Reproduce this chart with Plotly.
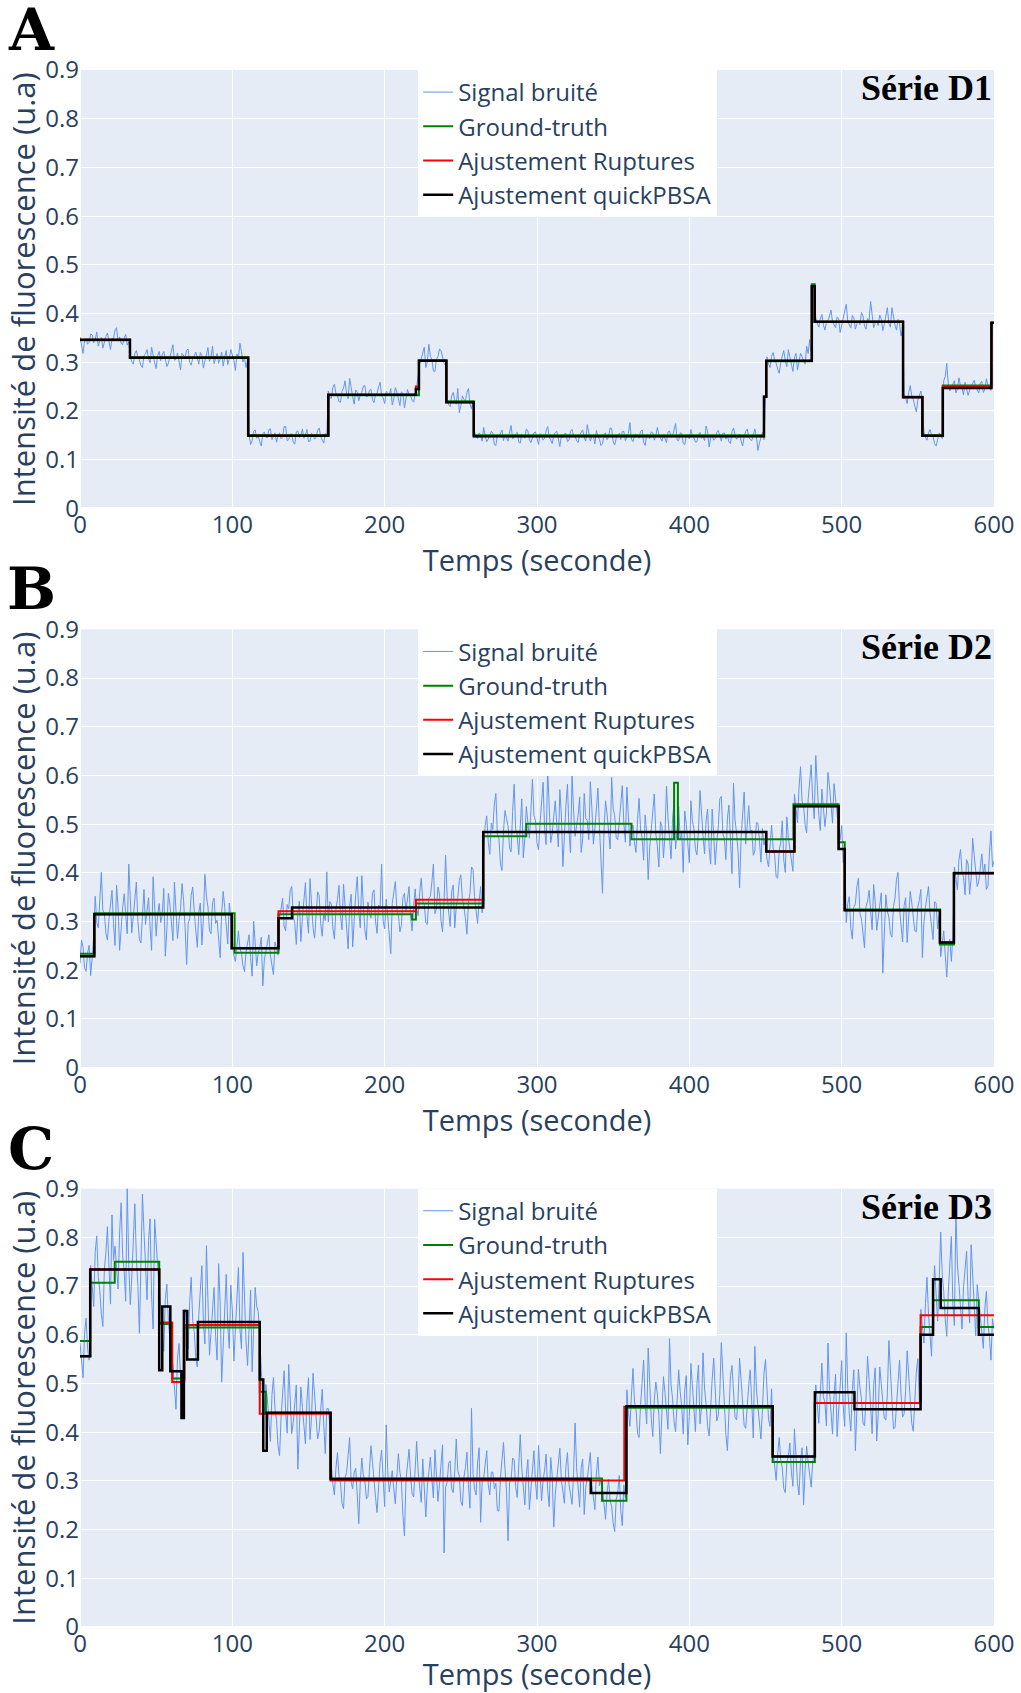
import plotly.graph_objects as go
from plotly.subplots import make_subplots

# sample times of the noisy signals (one sample per second)
temps = list(range(0, 601))

# noisy signals, in thousandths of a.u.
signal_d1 = [
    352, 331, 318, 344, 349, 337, 341, 358, 356, 340, 347, 362, 333, 345, 351, 329, 344, 353, 360, 338,
    326, 349, 348, 366, 371, 344, 352, 339, 336, 350, 357, 335, 342,
    312, 301, 296, 318, 324, 309, 305, 293, 289, 314, 317, 326, 308, 299, 331, 311, 299, 287, 314, 322,
    303, 316, 322, 307, 291, 298, 311, 328, 336, 304, 306, 319, 297, 284, 318, 312, 309, 325, 327, 300,
    294, 308, 313, 321, 305, 296, 320, 314, 288, 303, 316, 330, 302, 311, 333, 297, 308, 318, 298, 306,
    321, 292, 311, 324, 295, 307, 326, 315, 304, 283, 317, 309, 339, 322, 300, 310, 289, 303,
    152, 131, 139, 158, 161, 144, 148, 137, 128, 153, 157, 146, 145, 162, 163, 141, 150, 155, 136, 149,
    155, 143, 147, 168, 168, 139, 141, 152, 153, 135, 132, 157, 159, 146, 149, 163, 144, 151, 162, 137,
    138, 154, 151, 142, 146, 160, 165, 148, 140, 134, 154, 147,
    241, 228, 226, 248, 255, 236, 232, 219, 218, 240, 247, 262, 236, 225, 267, 244, 229, 214, 243, 238,
    221, 233, 238, 251, 252, 229, 230, 242, 245, 223, 217, 234, 236, 249, 259, 231, 227, 215, 240, 237,
    233, 246, 212, 225, 248, 239, 225, 211, 239, 236, 206, 228, 244, 233, 231, 222, 218, 235,
    248, 274,
    296, 307, 318, 331, 289, 301, 337, 312, 305, 282, 281, 306, 312, 327, 324, 310, 298, 293,
    225, 213, 209, 231, 238, 222, 214, 246, 196, 211, 231, 224, 220, 238, 246, 214, 205, 221,
    158, 147, 143, 155, 151, 138, 166, 149, 137, 142, 149, 158, 155, 131, 129, 150, 147, 156, 161, 139,
    152, 145, 138, 157, 170, 143, 145, 153, 156, 136, 134, 152, 150, 144, 163, 159, 141, 135, 148, 155,
    157, 146, 131, 153, 152, 140, 144, 159, 168, 147, 139, 133, 150, 156, 158, 141, 127, 149, 146, 153,
    154, 137, 140, 158, 162, 148, 149, 139, 135, 151, 156, 161, 145, 138, 172, 153, 138, 147, 151, 132,
    160, 148, 142, 129, 133, 152, 155, 141, 147, 165, 164, 137, 130, 144, 150, 154, 141, 158, 158, 139,
    146, 154, 176, 142, 137, 150, 153, 147, 144, 158, 161, 136, 129, 152, 149, 143, 157, 155, 140, 148,
    166, 151, 143, 138, 152, 144, 135, 157, 159, 146, 148, 162, 174, 140, 139, 155, 154, 133, 131, 150,
    150, 143, 162, 148, 145, 136, 137, 151, 156, 144, 147, 139, 169, 157, 126, 145, 151, 140, 143, 156,
    160, 149, 138, 154, 155, 142, 149, 137, 133, 158, 165, 151, 142, 146, 152, 138, 128, 147, 158, 163,
    146, 141, 139, 151, 163, 148, 119, 134, 148, 156, 141,
    232,
    311, 296, 289, 312, 320, 305, 298, 286, 277, 300, 315, 324, 303, 291, 326, 310, 292, 281, 309, 318,
    284, 299, 318, 312, 301, 296, 333, 318, 347, 322,
    455, 462,
    391, 380, 372, 389, 398, 377, 366, 381, 385, 395, 407, 383, 375, 371, 393, 389, 361, 376, 389, 402,
    419, 384, 378, 370, 396, 391, 368, 379, 384, 377, 402, 395, 374, 368, 390, 384, 425, 392, 371, 380,
    386, 375, 397, 389, 365, 378, 393, 412, 380, 372, 412, 391, 376, 366, 388, 379, 354, 370,
    236, 226, 215, 238, 252, 231, 224, 210, 198, 222, 232, 241, 219,
    158, 146, 140, 155, 162, 151, 147, 133, 128, 141, 155, 150, 143,
    262, 271, 298, 255, 241, 248, 255, 262, 237, 246, 268, 252, 246, 233, 259, 247, 232, 243, 251, 258,
    263, 249, 244, 237, 257, 261, 238, 245, 266, 253, 249, 242,
    379, 384,
]
signal_d2 = [
    214, 262, 247, 205, 198, 236, 251, 189, 226, 272,
    352, 298, 287, 341, 401, 322, 318, 276, 262, 305, 339, 364, 296, 251, 375, 330, 241, 288, 328, 357,
    309, 275, 418, 335, 277, 312, 345, 381, 301, 263, 256, 318, 366, 294, 322, 349, 289, 241, 392, 327,
    270, 315, 337, 298, 314, 368, 229, 283, 358, 336, 298, 261, 381, 314, 265, 302, 327, 378, 343, 287,
    212, 296, 306, 354, 371, 319, 284, 247, 319, 338, 252, 306, 397, 352, 330, 282, 275, 339, 348, 296,
    303, 267, 226, 318, 362, 329, 291, 254, 338, 312,
    262, 231, 218, 257, 281, 244, 235, 209, 197, 238, 254, 273, 226, 188, 301, 247, 209, 236, 247, 268,
    168, 221, 239, 258, 273, 230, 214, 191, 258, 242, 231,
    305, 329, 348, 290, 281, 335, 326, 364, 372, 311, 296, 253, 317, 342, 259, 308, 341, 380, 310, 276,
    388, 322, 287, 266, 329, 361, 353, 297, 270, 318, 302, 402, 299, 341, 336, 287, 264, 325, 345, 374,
    312, 283, 377, 329, 290, 244, 331, 356, 248, 309, 356, 392, 321, 287, 394, 333, 283, 262, 340, 318,
    307, 358, 365, 301, 276, 334, 329, 418, 301, 285, 346, 312, 269, 234, 337, 361, 382, 326, 315, 279,
    292, 350, 358, 321, 344, 372, 309, 281, 331,
    367, 328, 312, 359, 389, 342, 335, 297, 294, 348, 352, 381, 418, 316, 326, 371, 356, 301, 279, 345,
    436, 352, 318, 290, 362, 375, 287, 331, 349, 384, 396, 347, 330, 308, 274, 339, 358, 412, 407, 351,
    323, 296, 341, 372, 318,
    452, 497, 517, 463, 438, 502, 489, 541, 563, 478, 471, 418, 405, 486, 528, 512, 496, 451, 443, 526,
    582, 489, 478, 437, 509, 552, 431, 470,
    536, 494, 471, 528, 592, 517, 508, 462, 447, 503, 555, 586, 489, 458, 613, 527, 462, 481, 524, 548,
    498, 453, 571, 519, 413, 487, 539, 582, 486, 441, 601, 529, 475, 497, 518, 556, 442, 471, 563, 512,
    507, 468, 587, 535, 459, 492, 531, 574, 494, 437, 358, 488, 548, 521, 483, 449, 596, 533, 517, 472,
    468, 504, 541, 579, 502, 463, 576, 519, 455, 486,
    498, 461, 442, 509, 553, 488, 471, 426, 519, 482, 386, 452, 487, 534, 562, 479, 456, 412, 505, 496,
    431, 477, 578, 513, 468, 429, 512, 547, 449, 488, 536, 469, 482, 401, 527, 499, 463, 421, 548, 507,
    491, 448, 437, 486, 569, 512, 476, 439, 508, 531, 452, 418, 531, 476, 417, 463, 494, 552, 557, 481,
    470, 427, 513, 539, 446, 398, 584, 509, 482, 444, 369, 472, 521, 566, 459, 497, 538, 484, 488, 436,
    445, 503, 502, 468, 422, 491, 457,
    471, 428, 412, 465, 498, 451, 437, 392, 389, 446, 462, 507, 426, 401, 515, 472, 448, 419, 403,
    561, 528, 503, 574, 618, 547, 537, 498, 482, 551, 596, 622, 549, 511, 641, 563, 518, 487, 572, 534,
    495, 523, 606, 579, 534, 502, 583, 547, 512, 488,
    468, 497, 421, 446,
    298, 337, 351, 286, 264, 329, 337, 372, 389, 317, 305, 268, 246, 331, 342, 364, 318, 283, 376, 341,
    282, 306, 327, 359, 194, 298, 355, 321, 309, 274, 268, 331, 348, 387, 401, 326, 291, 258, 333, 349,
    257, 318, 362, 339, 314, 281, 279, 330, 345, 366, 226, 297, 329, 351, 372, 318, 296, 263, 341, 337,
    285, 312,
    228, 262, 281, 231, 186, 249, 264, 218, 273,
    412, 386, 365, 427, 448, 402, 391, 355, 427, 418, 356, 389, 471, 436, 403, 372, 382, 417, 439, 397,
    418, 366, 372, 441, 486, 412, 425,
]
signal_d3 = [
    583, 541, 512, 604, 634, 571, 548,
    742, 689, 658, 771, 803, 718, 691, 642, 617, 735, 768, 822, 724, 663, 846, 753,
    782, 728, 694, 811, 871, 762, 731, 669, 905, 744, 662, 718, 812, 869, 758, 701, 603, 776, 889, 812,
    725, 672, 794, 838, 678, 612, 837, 775, 741, 699,
    648, 601, 566, 672, 704, 629, 587, 553,
    538, 489, 447, 552, 582, 514, 481, 432,
    652, 603, 571, 668, 718, 629, 606, 552, 534, 641, 689, 742, 627, 581, 783, 659, 558, 603, 641, 697,
    597, 548, 746, 668, 503, 587, 665, 724, 618, 572, 702, 651, 546, 612, 681, 738, 612, 571, 769, 648,
    585, 537, 639, 692, 524, 601, 697, 659, 648, 593,
    512, 463, 437, 498,
    468, 421, 381, 476, 512, 447, 426, 372, 352, 431, 479, 526, 441, 398, 539, 462, 397, 421, 458, 497,
    324, 408, 493, 451, 420, 376, 466, 512, 385, 432, 521, 468, 437, 386, 402, 459, 488, 417, 356, 448,
    449, 413,
    332, 294, 271, 326, 358, 311, 296, 254, 243, 307, 317, 352, 389, 297, 284, 318, 326, 271, 212, 298,
    347, 312, 301, 263, 268, 321, 372, 338, 309, 266, 235, 294, 338, 363, 291, 247, 415, 321, 277, 306,
    321, 283, 253, 309, 356, 318, 298, 229, 187, 302, 334, 365, 312, 274, 267, 325, 381, 318, 289, 256,
    345, 297, 226, 288, 318, 349, 303, 265, 364, 312, 258, 294, 329, 374, 152, 287, 297, 336, 341, 283,
    276, 318, 386, 321, 310, 258, 249, 307, 327, 359, 292, 244, 449, 316, 283, 271, 337, 368, 215, 298,
    306, 341, 362, 292, 271, 318, 318, 284, 295, 239, 238, 306, 352, 379, 324, 281, 177, 296, 301, 347,
    343, 289, 266, 319, 395, 326, 287, 251, 313, 344, 241, 286, 336, 362, 298, 262, 373, 319, 259, 301,
    322, 355, 282, 247, 348, 311, 205, 273, 309, 337, 367, 302, 276, 254, 331, 358, 293, 267, 252, 314,
    419, 327, 285, 246, 327, 345, 231, 287, 304, 338, 358, 292, 268, 241, 316, 349, 290, 303,
    284, 247, 221, 276, 303, 259, 248, 213, 196, 262, 276, 311, 239, 208, 292, 265,
    487, 441, 412, 476, 531, 462, 446, 398, 389, 457, 502, 548, 461, 417, 573, 489, 428, 391, 466, 503,
    479, 435, 356, 441, 514, 482, 443, 406, 592, 497, 469, 421, 401, 462, 528, 483, 452, 396, 487, 516,
    374, 432, 541, 497, 436, 401, 498, 538, 417, 452, 563, 489, 458, 412, 392, 465, 509, 552, 471, 423,
    435, 478, 584, 509, 447, 396, 362, 438, 516, 537, 482, 431, 425, 471, 552, 498, 461, 414, 408, 463,
    497, 528, 439, 388, 576, 492, 453, 409, 386, 447, 521, 549, 468, 426, 412, 489,
    362, 328, 301, 356, 389, 342, 327, 284, 276, 338, 351, 378, 318, 289, 407, 352, 294, 271, 342, 368,
    251, 323, 371, 339, 316, 287, 338, 356,
    497, 452, 418, 481, 542, 473, 461, 413, 583, 488, 432, 396, 476, 519, 391, 446, 518, 547, 454, 412,
    604, 489, 439, 402, 487, 528, 362, 431, 529, 492, 468, 419, 413, 472, 556, 508, 447, 397, 496, 532,
    382, 438, 534, 496, 471, 428, 425, 479, 588, 516, 452, 407, 409, 463, 511, 548, 476, 431, 438, 486,
    567, 512, 461, 418, 402, 458, 523, 551, 463,
    652, 611, 583, 664, 718, 642, 601, 556, 674,
    742, 683, 628, 709, 811, 724, 689, 631, 597, 688, 758, 802, 663, 619, 856, 741, 704, 652, 612, 698,
    731, 772, 678, 624, 785, 713, 641, 598, 703, 668,
    648, 603, 572, 655, 689, 621, 597, 548, 633, 612,
]

# step fits: change points (s) and levels (a.u.)
gt_d1_t = [0, 32.8, 110.4, 163, 222.5, 240.5, 258.5, 449, 450.5, 480.4, 482.3, 540.3, 553, 566.4, 598.3, 600]
gt_d1_y = [0.345, 0.31, 0.15, 0.232, 0.304, 0.22, 0.15, 0.229, 0.302, 0.46, 0.383, 0.229, 0.15, 0.252, 0.38, 0.38]
rup_d1_t = [0, 32.8, 110.4, 163, 220.5, 222.5, 240.5, 258.5, 449, 450.5, 480.4, 482.3, 540.3, 553, 566.4, 598.3, 600]
rup_d1_y = [0.346, 0.309, 0.149, 0.233, 0.25, 0.303, 0.218, 0.148, 0.229, 0.303, 0.456, 0.383, 0.228, 0.149, 0.249, 0.381, 0.381]
qp_d1_t = [0, 32.8, 110.4, 163, 220.5, 222.5, 240.5, 258.5, 449, 450.5, 480.4, 482.3, 540.3, 553, 566.4, 598.3, 600]
qp_d1_y = [0.346, 0.309, 0.149, 0.233, 0.245, 0.303, 0.218, 0.148, 0.229, 0.303, 0.456, 0.383, 0.228, 0.149, 0.247, 0.381, 0.381]

gt_d2_t = [0, 9.4, 101.5, 130.3, 218, 220.5, 264.7, 293, 362, 390, 392.5, 468.3, 498, 502, 564.5, 573.7, 600]
gt_d2_y = [0.234, 0.317, 0.236, 0.315, 0.304, 0.337, 0.475, 0.501, 0.469, 0.585, 0.469, 0.541, 0.463, 0.325, 0.253, 0.40, 0.40]
rup_d2_t = [0, 9.4, 99.6, 130.3, 220.5, 264.7, 450.5, 469, 498, 502, 564.5, 573.7, 600]
rup_d2_y = [0.229, 0.315, 0.245, 0.321, 0.345, 0.484, 0.444, 0.537, 0.449, 0.323, 0.257, 0.399, 0.399]
qp_d2_t = [0, 9.4, 99.6, 130.3, 139.2, 264.7, 450.5, 469, 498, 502, 564.5, 573.7, 600]
qp_d2_y = [0.229, 0.315, 0.245, 0.307, 0.329, 0.484, 0.444, 0.537, 0.449, 0.323, 0.257, 0.399, 0.399]

gt_d3_t = [0, 6.7, 22.8, 52, 60.5, 68.5, 118, 122, 164.5, 342.7, 358.7, 454.7, 482.4, 551.8, 560, 590, 600]
gt_d3_y = [0.587, 0.707, 0.750, 0.622, 0.51, 0.615, 0.483, 0.440, 0.305, 0.259, 0.450, 0.339, 0.460, 0.616, 0.671, 0.616, 0.616]
rup_d3_t = [0, 6.7, 52, 60.5, 68.5, 118, 164.5, 357.3, 454.7, 482.4, 551.8, 600]
rup_d3_y = [0.556, 0.734, 0.625, 0.503, 0.620, 0.438, 0.301, 0.452, 0.350, 0.460, 0.640, 0.640]
qp_d3_t = [0, 6.7, 52, 54, 59.3, 66.6, 68.2, 70.4, 77.4, 118, 120.3, 122.6, 164.5, 335.3, 358.7, 454.7,
           482.4, 508.4, 551.8, 560, 565, 590, 600]
qp_d3_y = [0.556, 0.734, 0.527, 0.658, 0.525, 0.429, 0.649, 0.549, 0.626, 0.508, 0.362, 0.440, 0.304, 0.275,
           0.453, 0.350, 0.482, 0.447, 0.600, 0.714, 0.655, 0.600, 0.600]

series = [
    ('Série D1', signal_d1, (gt_d1_t, gt_d1_y), (rup_d1_t, rup_d1_y), (qp_d1_t, qp_d1_y)),
    ('Série D2', signal_d2, (gt_d2_t, gt_d2_y), (rup_d2_t, rup_d2_y), (qp_d2_t, qp_d2_y)),
    ('Série D3', signal_d3, (gt_d3_t, gt_d3_y), (rup_d3_t, rup_d3_y), (qp_d3_t, qp_d3_y)),
]
panel_letters = ['A', 'B', 'C']

FONT = 'Open Sans, DejaVu Sans, sans-serif'

fig = make_subplots(rows=3, cols=1, vertical_spacing=0.0777)

for i, (name, noisy, gt, rup, qp) in enumerate(series):
    row = i + 1
    leg = 'legend' if i == 0 else f'legend{row}'
    fig.add_trace(go.Scatter(x=temps, y=[v / 1000 for v in noisy], mode='lines', name='Signal bruité',
                             line=dict(color='#6495ED', width=1), legend=leg), row=row, col=1)
    fig.add_trace(go.Scatter(x=gt[0], y=gt[1], mode='lines', line_shape='hv', name='Ground-truth',
                             line=dict(color='green', width=2), legend=leg), row=row, col=1)
    fig.add_trace(go.Scatter(x=rup[0], y=rup[1], mode='lines', line_shape='hv', name='Ajustement Ruptures',
                             line=dict(color='red', width=2), legend=leg), row=row, col=1)
    fig.add_trace(go.Scatter(x=qp[0], y=qp[1], mode='lines', line_shape='hv', name='Ajustement quickPBSA',
                             line=dict(color='black', width=2.5), legend=leg), row=row, col=1)

    fig.update_xaxes(range=[0, 600], dtick=100, tickfont=dict(size=24), automargin=False,
                     title=dict(text='Temps (seconde)', font=dict(size=29), standoff=4), row=row, col=1)
    fig.update_yaxes(range=[0, 0.9], dtick=0.1, tickfont=dict(size=24), automargin=False,
                     title=dict(text='Intensité de fluorescence (u.a)', font=dict(size=31), standoff=0),
                     row=row, col=1)

fig.update_layout(width=1021, height=1693, template='plotly',
                  margin=dict(l=80, r=27, t=70, b=66),
                  font=dict(family=FONT, color='#2a3f5f'))

# one legend and one label per panel
for i in range(3):
    row = i + 1
    yaxis = fig.layout['yaxis' if row == 1 else f'yaxis{row}']
    top = yaxis.domain[1]
    leg_key = 'legend' if row == 1 else f'legend{row}'
    fig.update_layout({leg_key: dict(x=0.370, y=top, xanchor='left', yanchor='top',
                                     bgcolor='white', font=dict(size=24), tracegroupgap=0)})
    fig.add_annotation(text=f'<b>{series[i][0]}</b>', xref='paper', yref='paper', x=1.0, y=top + 4 / 1557,
                       xanchor='right', yanchor='top', showarrow=False,
                       font=dict(family='Liberation Serif, Times New Roman, serif', size=36, color='black'))
    fig.add_annotation(text=f'<b>{panel_letters[i]}</b>', xref='paper', yref='paper', x=-0.0536,
                       y=top + 40 / 1557, xanchor='center', yanchor='middle', showarrow=False,
                       font=dict(family='DejaVu Serif, serif', size=58, color='black'))

fig.write_html('out.html', config={'displayModeBar': False},
               post_script="document.body.style.margin='0';"
                           "document.documentElement.style.overflow='hidden';")
